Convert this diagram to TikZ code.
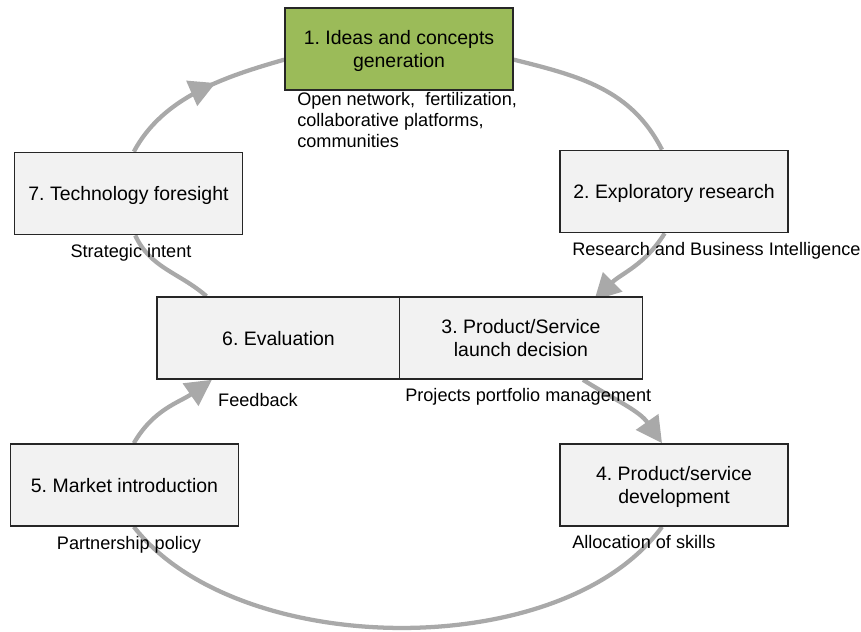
\documentclass[tikz,border=0pt]{standalone}
\usepackage{fontspec}
\setmainfont{Liberation Sans}
\frenchspacing
\usepackage{tikz}
\usetikzlibrary{arrows.meta,backgrounds,decorations.markings}
\definecolor{cyclegray}{HTML}{A9A9A9}
\definecolor{boxgray}{HTML}{F2F2F2}
\definecolor{ideagreen}{HTML}{9BBB59}
\tikzset{%
        x = 0.75pt,
        y = 0.75pt,
        every node/.style = {font = \fontsize{13.6}{15.75}\selectfont},
        mid arrow/.style = {
            postaction = {decorate},
            decoration = {markings,
                mark = at position #1 with {\arrow{Triangle[length=19.5pt, width=20pt]}}}
        }
}
\tikzstyle{box}=[
    draw = black!85,
    fill = boxgray,
    line width = 1.2pt,
    minimum width = 171pt,
    minimum height = 61.5pt,
    inner sep = 0pt,
    text depth = -1pt,
    align = center,
    font = \fontsize{14.6}{17.5}\selectfont
]
\tikzstyle{wide box}=[box, minimum width = 182pt]
\tikzstyle{note}=[inner sep = 0pt, anchor = base]
\tikzstyle{every edge}=[
    draw = cyclegray,
    line width = 3.2pt
]
\tikzstyle{cycle arrow}=[-{Triangle[length=19.5pt, width=20pt]}]

\begin{document}
\begin{tikzpicture}
            \useasboundingbox (0,0) rectangle (861,-632);
            \node[box, fill=ideagreen] (ideas) at (399,-49) {1. Ideas and concepts\\generation};
            \node[box] (foresight) at (128.5,-193.5) {7. Technology foresight};
            \node[box] (explor) at (674,-191.5) {2. Exploratory research};
            \node[wide box] (eval) at (278.5,-338) {6. Evaluation};
            \node[wide box] (launch) at (521,-338) {3. Product/Service\\launch decision};
            \node[box] (market) at (124.5,-485) {5. Market introduction};
            \node[box] (develop) at (674,-485) {4. Product/service\\development};
            % texts under the boxes
            \node[note, anchor=north west, align=left] (ideasnote) at (297,-92.5)
                {Open network,\ \ fertilization,\\collaborative platforms,\\communities};
            \node[note] (foresightnote) at (131,-257) {Strategic intent};
            \node[note, anchor=base west] (explornote) at (572,-255) {Research and Business Intelligence};
            \node[note] (evalnote) at (258,-406) {Feedback};
            \node[note, anchor=base west] (launchnote) at (405,-401) {Projects portfolio management};
            \node[note] (marketnote) at (129,-549) {Partnership policy};
            \node[note, anchor=base west] (developnote) at (572,-548) {Allocation of skills};
            % the two loops
            \begin{scope}[on background layer]
            \path
            ([xshift=4pt]foresight.north) edge[mid arrow=0.6, out=62, in=196, looseness=0.9] ([yshift=-8pt]ideas.west)
            ([yshift=-8pt]ideas.east) edge[out=-14, in=117] ([xshift=-9pt]explor.north)
            ([xshift=-7pt]explor.south) edge[cycle arrow, out=238, in=45] ([xshift=55pt, yshift=-3pt]launch.north)
            ([xshift=-54pt]eval.north) edge[out=139, in=295] ([xshift=5pt]foresight.south)
            ([xshift=46.5pt]launch.south) edge[cycle arrow, out=-32, in=125] ([xshift=-9pt]develop.north)
            ([xshift=-9pt]develop.south) edge[out=234, in=-52, looseness=0.82] ([xshift=7pt]market.south)
            ([xshift=7pt]market.north) edge[cycle arrow, out=60, in=215] ([xshift=-50pt]eval.south)
            ;
            \end{scope}
        \end{tikzpicture}
\end{document}
